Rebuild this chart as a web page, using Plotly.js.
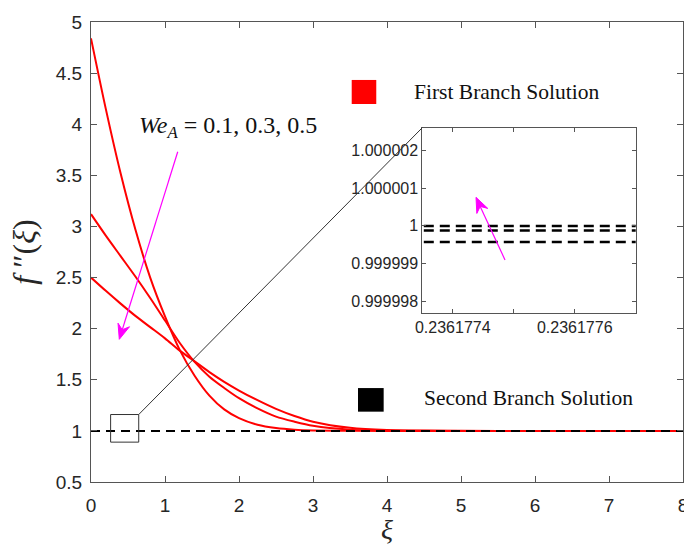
<!DOCTYPE html>
<html>
<head>
<meta charset="utf-8">
<script src="https://cdn.plot.ly/plotly-3.0.1.min.js"></script>
<style>html,body{margin:0;padding:0;background:#fff;}#chart{width:684px;height:545px;}</style>
</head>
<body>
<div id="chart"></div>
<script>
// ---- data ----
const xi = [0, 0.2, 0.4, 0.6, 0.8, 1.0, 1.2, 1.4, 1.6, 1.8, 2.0, 2.25, 2.5, 2.75, 3.0, 3.5, 4.0, 5.0, 6.0, 7.0, 8.0];
// First branch solutions (red)
const firstWe1 = [4.84, 4.15, 3.52, 2.97, 2.50, 2.12, 1.79, 1.54, 1.345, 1.21, 1.125, 1.06, 1.028, 1.012, 1.005, 1.001, 1, 1, 1, 1, 1];
const firstWe3 = [3.12, 2.91, 2.71, 2.51, 2.30, 2.08, 1.86, 1.675, 1.53, 1.42, 1.32, 1.22, 1.14, 1.09, 1.05, 1.012, 1.002, 1, 1, 1, 1];
const firstWe5 = [2.50, 2.37, 2.245, 2.125, 2.015, 1.905, 1.785, 1.68, 1.575, 1.48, 1.395, 1.30, 1.215, 1.145, 1.09, 1.03, 1.008, 1.001, 1, 1, 1];
// Second branch solutions (black dashed)
const secondXi = [0, 8];
const secondWe1 = [1.00000000, 1.00000000];
const secondWe3 = [0.99999988, 0.99999988];
const secondWe5 = [0.99999957, 0.99999957];
// Inset (zoom) window
const insetXi = [0.2361773, 0.2361778];
const insetXRange = [0.23617735, 0.2361777];
const insetYRange = [0.9999977, 1.0000026];
const insetXTicks = [0.2361774, 0.2361776];
const insetXLabels = ['0.2361774', '0.2361776'];
const insetXMinorTicks = [0.2361775];
const insetYTicks = [0.999998, 0.999999, 1.0, 1.000001, 1.000002];
const insetYLabels = ['0.999998', '0.999999', '1', '1.000001', '1.000002'];
const mainYTicks = [0.5, 1, 1.5, 2, 2.5, 3, 3.5, 4, 4.5, 5];
const mainXTicks = [0, 1, 2, 3, 4, 5, 6, 7, 8];

const red = '#ff0000';
const magenta = '#ff00ff';
const traces = [];
[firstWe1, firstWe3, firstWe5].forEach((ys, i) => {
  traces.push({x: xi, y: ys, type: 'scatter', mode: 'lines', name: 'First branch ' + i,
    line: {color: red, width: 2, shape: 'spline', smoothing: 0.8}, showlegend: false, hoverinfo: 'skip'});
});
[secondWe1, secondWe3, secondWe5].forEach((ys, i) => {
  traces.push({x: secondXi, y: ys, type: 'scatter', mode: 'lines', name: 'Second branch ' + i,
    line: {color: '#000', width: 2, dash: '9px,6px'}, showlegend: false, hoverinfo: 'skip'});
});
[secondWe1, secondWe3, secondWe5].forEach((ys, i) => {
  traces.push({x: insetXi, y: ys, xaxis: 'x2', yaxis: 'y2', type: 'scatter', mode: 'lines', name: 'Second branch (zoom) ' + i,
    line: {color: '#000', width: 2.5, dash: '10px,6px'}, showlegend: false, hoverinfo: 'skip'});
});

const axisColor = '#555';
const tickFont = {family: 'Liberation Sans, Arial, sans-serif', size: 19, color: '#262626'};
const insetFont = {family: 'Liberation Sans, Arial, sans-serif', size: 16, color: '#262626'};
const serif = 'Liberation Serif, Times New Roman, serif';

const layout = {
  width: 684, height: 545,
  margin: {l: 91, r: 1, t: 22, b: 63},
  paper_bgcolor: '#fff', plot_bgcolor: '#fff',
  showlegend: false,
  xaxis: {
    range: [0, 8], tickvals: mainXTicks, ticks: 'inside', ticklen: 6, tickcolor: axisColor,
    showline: true, linecolor: axisColor, linewidth: 1, mirror: 'ticks',
    showgrid: false, zeroline: false, tickfont: tickFont, ticklabeloverflow: 'allow',
    ticklabelstandoff: 6,
    title: {text: '<i>ξ</i>', font: {family: serif, size: 28, color: '#262626'}, standoff: 9}
  },
  yaxis: {
    range: [0.5, 5], tickvals: mainYTicks, ticks: 'inside', ticklen: 6, tickcolor: axisColor,
    showline: true, linecolor: axisColor, linewidth: 1, mirror: 'ticks',
    showgrid: false, zeroline: false, tickfont: tickFont, ticklabelstandoff: 4,
    title: {text: '<i>f</i> ″(<i>ξ</i>)', font: {family: serif, size: 32, color: '#262626'}, standoff: 10}
  },
  xaxis2: {
    domain: [0.5596, 0.9201], anchor: 'y2', range: insetXRange,
    tickvals: insetXTicks, ticktext: insetXLabels, ticks: 'inside', ticklen: 4, tickcolor: axisColor,
    minor: {tickvals: insetXMinorTicks, ticks: 'inside', ticklen: 4, tickcolor: axisColor, showgrid: false},
    showline: true, linecolor: axisColor, linewidth: 1, mirror: 'ticks',
    showgrid: false, zeroline: false, tickfont: insetFont
  },
  yaxis2: {
    domain: [0.368, 0.7702], anchor: 'x2', range: insetYRange,
    tickvals: insetYTicks, ticktext: insetYLabels, ticks: 'inside', ticklen: 4, tickcolor: axisColor,
    showline: true, linecolor: axisColor, linewidth: 1, mirror: 'ticks',
    showgrid: false, zeroline: false, tickfont: insetFont
  },
  shapes: [
    // zoom box
    {type: 'rect', xref: 'x', yref: 'y', x0: 0.265, x1: 0.645, y0: 0.89, y1: 1.16,
      line: {color: '#333', width: 1}, fillcolor: 'rgba(0,0,0,0)'},
    // connector line to inset
    {type: 'line', xref: 'x', yref: 'y', x0: 0.645, y0: 1.16, x1: 4.477, y1: 3.966,
      line: {color: '#333', width: 1}},
    // legend squares
    {type: 'rect', xref: 'x', yref: 'y', x0: 3.523, x1: 3.855, y0: 4.198, y1: 4.433,
      line: {width: 0}, fillcolor: red},
    {type: 'rect', xref: 'x', yref: 'y', x0: 3.608, x1: 3.955, y0: 1.188, y1: 1.419,
      line: {width: 0}, fillcolor: '#000'},
    // main magenta arrow (shaft + head)
    {type: 'line', xref: 'x', yref: 'y', x0: 1.172, y0: 3.731, x1: 0.4226, y1: 1.9894,
      line: {color: magenta, width: 1.2}},
    {type: 'path', xref: 'x', yref: 'y', path: 'M 0.3824 1.8958 L 0.5201 2.0187 L 0.4226 1.9894 L 0.3653 2.0536 Z',
      line: {color: magenta, width: 1}, fillcolor: magenta},
    // inset magenta arrow (shaft + head)
    {type: 'line', xref: 'x', yref: 'y', x0: 5.595, y0: 2.672, x1: 5.2595, y1: 3.1963,
      line: {color: magenta, width: 1.2}},
    {type: 'path', xref: 'x', yref: 'y', path: 'M 5.2027 3.2851 L 5.3614 3.1765 L 5.2595 3.1963 L 5.2142 3.1273 Z',
      line: {color: magenta, width: 1}, fillcolor: magenta}
  ],
  annotations: [
    {xref: 'x', yref: 'y', x: 4.334, y: 4.315, xanchor: 'left', yanchor: 'middle', showarrow: false,
      text: 'First Branch Solution', font: {family: serif, size: 21.5, color: '#111'}},
    {xref: 'x', yref: 'y', x: 4.469, y: 1.322, xanchor: 'left', yanchor: 'middle', showarrow: false,
      text: 'Second Branch Solution', font: {family: serif, size: 21.5, color: '#111'}},
    {xref: 'x', yref: 'y', x: 1.845, y: 3.976, xanchor: 'center', yanchor: 'middle', showarrow: false,
      text: '<i>We</i><sub><i>A</i></sub> = 0.1, 0.3, 0.5', font: {family: serif, size: 24, color: '#111'}}
  ]
};

Plotly.newPlot('chart', traces, layout, {staticPlot: true, displayModeBar: false});
</script>
</body>
</html>
